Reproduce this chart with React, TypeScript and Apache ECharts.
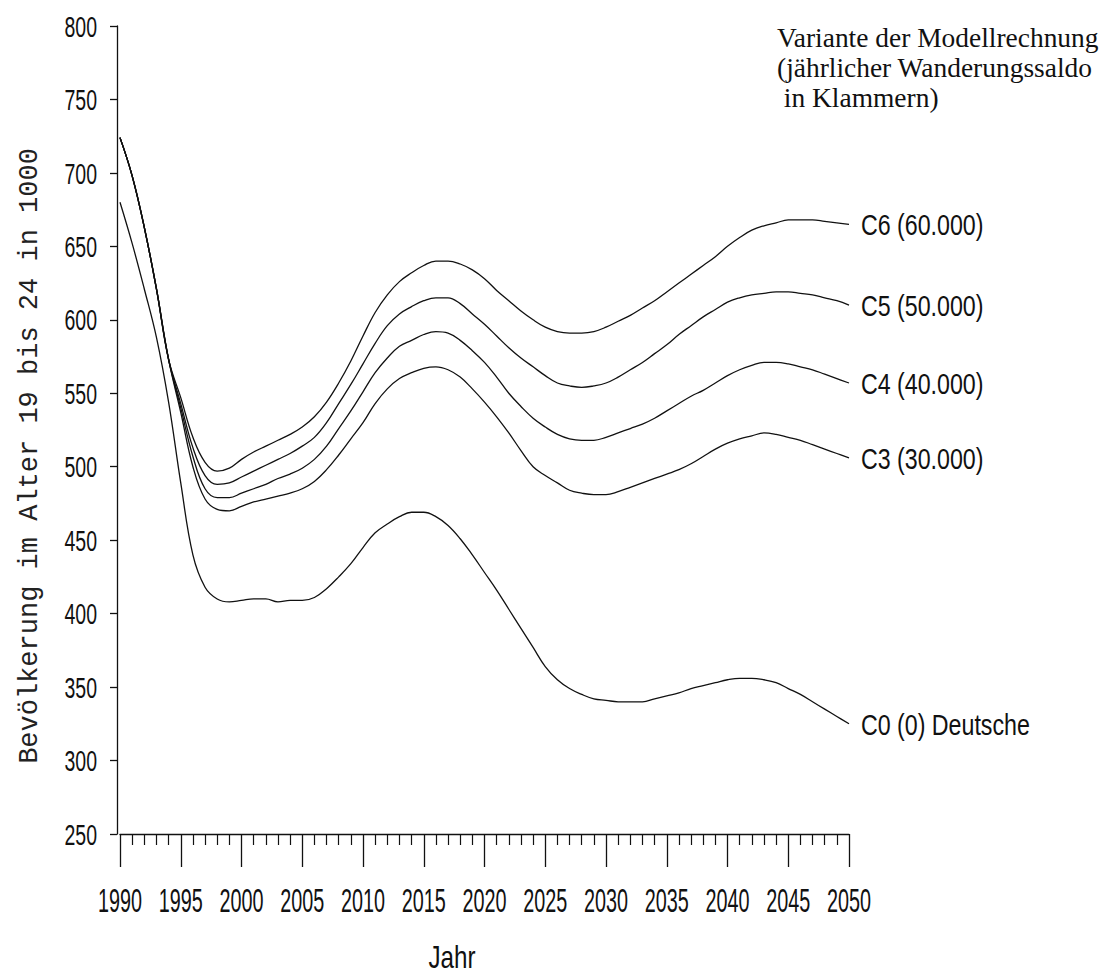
import React, { useEffect, useRef } from "react";
import * as echarts from "echarts";

const years: number[] = [];
for (let y = 1990; y <= 2050; y++) years.push(y);

const xTickLabels = [1990, 1995, 2000, 2005, 2010, 2015, 2020, 2025, 2030, 2035, 2040, 2045, 2050];
const yTickLabels = [250, 300, 350, 400, 450, 500, 550, 600, 650, 700, 750, 800];

const c6 = [
  724, 698, 663, 621, 573, 547, 520, 503, 497, 499,
  505, 510, 514, 518, 522, 527, 534, 544, 557, 572,
  589, 605, 617, 626, 632, 637, 640, 640, 638, 634,
  628, 620, 613, 606, 600, 595, 592, 591, 591, 592,
  595, 599, 603, 608, 613, 619, 625, 631, 637, 643,
  650, 656, 661, 664, 666, 668, 668, 668, 667, 666, 665,
];
const c5 = [
  724, 698, 663, 621, 573, 543, 513, 494, 488, 489,
  493, 497, 501, 505, 509, 514, 520, 530, 543, 556,
  570, 584, 596, 604, 609, 613, 615, 615, 611, 604,
  597, 589, 581, 574, 568, 562, 557, 555, 554, 555,
  557, 561, 566, 571, 577, 583, 590, 596, 602, 607,
  612, 615, 617, 618, 619, 619, 618, 617, 615, 613, 610,
];
const c4 = [
  724, 698, 663, 621, 573, 540, 507, 485, 479, 479,
  482, 485, 488, 492, 495, 499, 505, 514, 526, 538,
  551, 564, 574, 582, 586, 590, 592, 591, 586, 579,
  571, 561, 550, 541, 533, 527, 522, 519, 518, 518,
  520, 523, 526, 529, 533, 538, 543, 548, 552, 557,
  562, 566, 569, 571, 571, 570, 568, 566, 563, 560, 557,
];
const c3 = [
  724, 698, 663, 621, 573, 537, 500, 478, 471, 470,
  473, 476, 478, 480, 482, 485, 490, 498, 508, 519,
  530, 543, 553, 560, 564, 567, 568, 566, 561, 553,
  544, 534, 523, 511, 500, 494, 489, 484, 482, 481,
  481, 483, 486, 489, 492, 495, 498, 502, 507, 512,
  516, 519, 521, 523, 522, 520, 518, 515, 512, 509, 506,
];
const c0 = [
  680, 652, 621, 588, 544, 489, 440, 418, 410, 408,
  409, 410, 410, 408, 409, 409, 411, 417, 425, 434,
  445, 455, 461, 466, 469, 469, 466, 460, 451, 440,
  428, 416, 403, 390, 377, 364, 355, 349, 345, 342,
  341, 340, 340, 340, 342, 344, 346, 349, 351, 353,
  355, 356, 356, 355, 353, 349, 345, 340, 335, 330, 325,
];

const seriesNames = ["C6 (60.000)", "C5 (50.000)", "C4 (40.000)", "C3 (30.000)", "C0 (0) Deutsche"];
const seriesValues = [c6, c5, c4, c3, c0];

const yTitle = "Bevölkerung im Alter 19 bis 24 in 1000";
const xTitle = "Jahr";
const legendTitle = "Variante der Modellrechnung\n(jährlicher Wanderungssaldo\n in Klammern)";

const sans = "'Liberation Sans', Arial, sans-serif";
const serif = "'Liberation Serif', 'DejaVu Serif', serif";
const mono = "'Liberation Mono', 'DejaVu Sans Mono', monospace";

export default function App() {
  const ref = useRef<HTMLDivElement>(null);
  useEffect(() => {
    if (!ref.current) return;
    const chart = echarts.init(ref.current, undefined, { renderer: "svg" });
    const ink = "#111";
    chart.setOption({
      animation: false,
      backgroundColor: "#fff",
      grid: { left: 120, right: 255, top: 26, bottom: 141, containLabel: false },
      xAxis: {
        type: "value",
        min: 1990,
        max: 2050,
        interval: 5,
        axisLine: { show: true, lineStyle: { color: ink, width: 1.3 } },
        axisTick: { show: true, length: 33, lineStyle: { color: ink, width: 1.3 } },
        minorTick: { show: true, splitNumber: 5, length: 11, lineStyle: { color: ink, width: 1.2 } },
        splitLine: { show: false },
        axisLabel: { show: false },
      },
      yAxis: {
        type: "value",
        min: 250,
        max: 800,
        interval: 50,
        offset: 3,
        axisLine: { show: true, lineStyle: { color: ink, width: 1.3 } },
        axisTick: { show: true, length: 7, lineStyle: { color: ink, width: 1.3 } },
        splitLine: { show: false },
        axisLabel: { show: false },
      },
      series: seriesNames.map((name, i) => ({
        name,
        type: "line",
        data: years.map((y, k) => [y, seriesValues[i][k]]),
        smooth: 0.4,
        showSymbol: false,
        symbol: "none",
        lineStyle: { color: ink, width: 1.3 },
      })),
    });

    const graphics: any[] = [];
    const axisX = (chart.convertToPixel({ xAxisIndex: 0 }, 1990) as number) - 3;
    const axisY = chart.convertToPixel({ yAxisIndex: 0 }, 250) as number;

    xTickLabels.forEach((v) => {
      graphics.push({
        type: "text",
        x: chart.convertToPixel({ xAxisIndex: 0 }, v) as number,
        y: axisY + 66,
        scaleX: 0.6,
        style: { text: String(v), fontFamily: sans, fontSize: 33, fill: ink, align: "center", verticalAlign: "middle" },
      });
    });
    yTickLabels.forEach((v) => {
      graphics.push({
        type: "text",
        x: axisX - 20,
        y: chart.convertToPixel({ yAxisIndex: 0 }, v) as number,
        scaleX: 0.65,
        style: { text: String(v), fontFamily: sans, fontSize: 30, fill: ink, align: "right", verticalAlign: "middle" },
      });
    });
    seriesNames.forEach((name, i) => {
      const vals = seriesValues[i];
      const p = chart.convertToPixel({ seriesIndex: i }, [years[years.length - 1], vals[vals.length - 1]]) as number[];
      graphics.push({
        type: "text",
        x: p[0] + 12,
        y: p[1] + 1,
        scaleX: 0.8,
        style: { text: name, fontFamily: sans, fontSize: 29, fill: ink, align: "left", verticalAlign: "middle" },
      });
    });
    graphics.push(
      {
        type: "text",
        x: 30,
        y: 456,
        rotation: Math.PI / 2,
        style: { text: yTitle, fontFamily: mono, fontSize: 27, fill: "#222", align: "center", verticalAlign: "middle" },
      },
      {
        type: "text",
        x: 452,
        y: 957,
        scaleX: 0.78,
        style: { text: xTitle, fontFamily: sans, fontSize: 31, fill: ink, align: "center", verticalAlign: "middle" },
      },
      {
        type: "text",
        x: 777,
        y: 22,
        scaleX: 0.98,
        style: {
          text: legendTitle,
          fontFamily: serif,
          fontSize: 28,
          lineHeight: 30,
          fill: ink,
          align: "left",
          verticalAlign: "top",
        },
      }
    );
    chart.setOption({ graphic: graphics });
    return () => chart.dispose();
  }, []);
  return (
    <div
      ref={ref}
      style={{ position: "fixed", left: 0, top: 0, width: 1104, height: 975, background: "#fff" }}
    />
  );
}
